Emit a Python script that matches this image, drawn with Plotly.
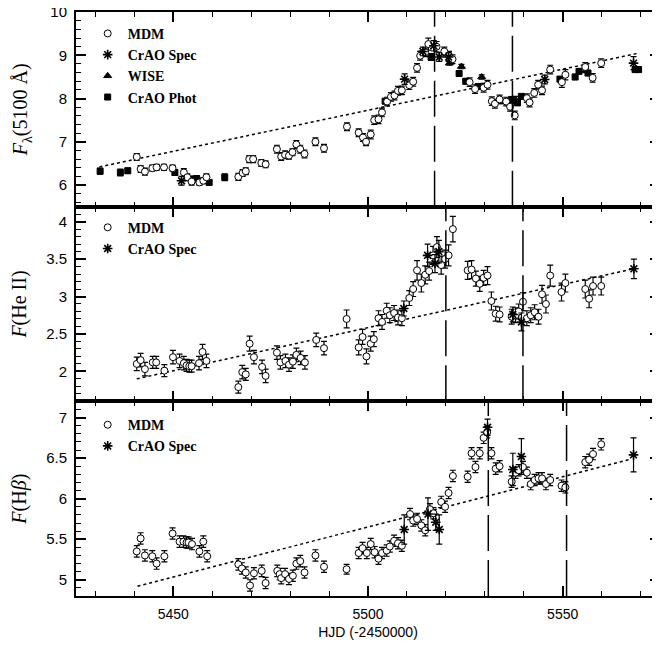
import plotly.graph_objects as go
from plotly.subplots import make_subplots

# ---- continuum F_lambda(5100 A) ----
cont_mdm_x = [5440.6, 5441.6, 5442.7, 5444.6, 5445.7, 5447.6, 5449.8, 5452.7, 5453.6, 5454.7,
              5456.7, 5457.7, 5458.5, 5466.7, 5467.8, 5468.6, 5469.5, 5470.5, 5472.6, 5473.7,
              5476.6, 5477.7, 5478.7, 5479.7, 5480.6, 5481.6, 5482.6, 5483.7, 5486.5, 5488.7,
              5494.6, 5497.6, 5498.7, 5499.5, 5500.7, 5501.6, 5502.7, 5503.6, 5504.9, 5505.9,
              5506.8, 5507.7, 5508.7, 5510.6, 5511.6, 5512.6, 5513.4, 5514.7, 5515.5, 5517.6,
              5519.6, 5520.8, 5521.7, 5526.1, 5527.5, 5529.7, 5530.7, 5531.8, 5532.6, 5533.8,
              5535.5, 5536.5, 5537.7, 5540.8, 5541.5, 5542.7, 5543.7, 5544.7, 5546.8, 5549.8,
              5550.7, 5555.8, 5557.7, 5559.9]
cont_mdm_y = [6.65, 6.37, 6.31, 6.39, 6.41, 6.41, 6.39, 6.29, 6.18, 6.08,
              6.06, 6.10, 6.18, 6.19, 6.28, 6.32, 6.60, 6.60, 6.51, 6.48,
              6.83, 6.66, 6.70, 6.68, 6.76, 6.94, 6.83, 6.72, 7.00, 6.85,
              7.35, 7.21, 7.10, 7.00, 7.17, 7.50, 7.52, 7.68, 7.93, 8.04,
              8.07, 8.18, 8.19, 8.31, 8.39, 8.71, 8.99, 9.07, 9.26, 9.20,
              9.09, 8.99, 8.91, 8.38, 8.22, 8.25, 8.32, 7.94, 7.88, 7.98,
              7.93, 7.81, 7.61, 8.01, 7.91, 8.13, 8.32, 8.19, 8.67, 8.38,
              8.55, 8.73, 8.48, 8.82]
cont_mdm_e = [0.08, 0.08, 0.08, 0.07, 0.07, 0.07, 0.07, 0.09, 0.08, 0.08,
              0.07, 0.07, 0.08, 0.08, 0.08, 0.08, 0.08, 0.08, 0.08, 0.08,
              0.09, 0.09, 0.09, 0.08, 0.08, 0.09, 0.09, 0.09, 0.09, 0.09,
              0.09, 0.09, 0.09, 0.09, 0.10, 0.10, 0.10, 0.10, 0.10, 0.10,
              0.10, 0.10, 0.10, 0.10, 0.10, 0.10, 0.10, 0.10, 0.14, 0.12,
              0.10, 0.10, 0.10, 0.10, 0.10, 0.10, 0.10, 0.10, 0.10, 0.10,
              0.10, 0.10, 0.10, 0.10, 0.10, 0.10, 0.10, 0.10, 0.10, 0.12,
              0.12, 0.10, 0.10, 0.10]
cont_spec_x = [5452.1, 5509.4, 5514.1, 5516.9, 5518.3, 5520.7, 5538.0, 5545.4, 5568.2]
cont_spec_y = [6.10, 8.45, 9.09, 9.22, 8.96, 8.96, 7.95, 8.44, 8.82]
cont_spec_e = [0.10, 0.12, 0.10, 0.12, 0.10, 0.10, 0.10, 0.10, 0.15]
cont_wise_x = [5513.9, 5520.9, 5524.0, 5529.2, 5534.5, 5556.0]
cont_wise_y = [9.05, 8.82, 8.74, 8.50, 7.93, 8.65]
cont_wise_e = [0.05, 0.05, 0.05, 0.05, 0.05, 0.05]
cont_phot_x = [5431.2, 5436.4, 5438.3, 5450.4, 5455.3, 5456.0, 5459.2, 5463.2, 5504.4, 5516.2,
               5523.4, 5525.1, 5528.3, 5536.9, 5538.4, 5539.4, 5549.3, 5553.2, 5554.2, 5556.5,
               5568.6, 5569.5]
cont_phot_y = [6.32, 6.29, 6.33, 6.29, 6.14, 6.15, 6.06, 6.18, 7.94, 8.96,
               8.58, 8.40, 8.28, 7.98, 7.90, 8.05, 8.45, 8.50, 8.63, 8.59,
               8.67, 8.67]
cont_phot_e = [0.07, 0.08, 0.06, 0.06, 0.06, 0.06, 0.06, 0.08, 0.06, 0.08,
               0.06, 0.06, 0.06, 0.06, 0.06, 0.06, 0.06, 0.06, 0.06, 0.06,
               0.05, 0.05]
cont_trend_x = [5431, 5569]
cont_trend_y = [6.42, 9.04]
cont_lags = [5517.1, 5537.1]

# ---- He II ----
heii_mdm_x = [5440.6, 5441.6, 5442.7, 5444.7, 5445.6, 5447.7, 5449.9, 5451.6, 5452.7, 5453.4,
              5454.1, 5454.7, 5456.6, 5457.5, 5458.5, 5466.7, 5467.7, 5468.6, 5469.6, 5470.7,
              5472.8, 5473.7, 5476.6, 5477.5, 5478.8, 5479.7, 5480.7, 5481.6, 5482.7, 5483.8,
              5486.7, 5488.7, 5494.5, 5497.6, 5498.6, 5499.6, 5500.7, 5501.5, 5502.7, 5503.6,
              5504.8, 5505.6, 5506.7, 5507.7, 5508.7, 5510.6, 5511.6, 5512.6, 5513.7, 5514.7,
              5515.7, 5516.7, 5517.7, 5518.8, 5519.8, 5520.7, 5521.8, 5525.6, 5526.6, 5527.7,
              5528.7, 5529.7, 5530.7, 5531.7, 5532.8, 5533.8, 5536.9, 5537.9, 5538.7, 5539.8,
              5540.8, 5541.8, 5542.8, 5543.8, 5544.7, 5545.7, 5546.8, 5549.7, 5550.7, 5555.8,
              5556.8, 5557.8, 5559.9]
heii_mdm_y = [2.10, 2.15, 2.03, 2.12, 2.12, 2.01, 2.19, 2.14, 2.11, 2.08,
              2.07, 2.07, 2.11, 2.26, 2.14, 1.79, 1.99, 1.96, 2.37, 2.19,
              2.06, 1.94, 2.25, 2.12, 2.14, 2.09, 2.13, 2.22, 2.18, 2.12,
              2.42, 2.31, 2.70, 2.32, 2.46, 2.20, 2.37, 2.43, 2.71, 2.66,
              2.81, 2.75, 2.78, 2.72, 2.71, 2.98, 3.10, 3.35, 3.18, 3.29,
              3.34, 3.55, 3.66, 3.42, 3.50, 3.55, 3.90, 3.35, 3.36, 3.24,
              3.17, 3.25, 3.28, 2.94, 2.77, 2.76, 2.73, 2.75, 2.80, 2.93,
              2.71, 2.75, 2.79, 2.73, 3.03, 2.90, 3.28, 3.06, 3.18, 3.10,
              2.97, 3.14, 3.14]
heii_mdm_e = [0.09, 0.09, 0.09, 0.08, 0.08, 0.08, 0.09, 0.09, 0.09, 0.08,
              0.08, 0.08, 0.09, 0.10, 0.09, 0.08, 0.09, 0.08, 0.10, 0.09,
              0.09, 0.09, 0.09, 0.09, 0.09, 0.09, 0.09, 0.09, 0.09, 0.09,
              0.09, 0.09, 0.12, 0.10, 0.10, 0.10, 0.10, 0.10, 0.10, 0.10,
              0.10, 0.10, 0.10, 0.10, 0.10, 0.10, 0.10, 0.13, 0.12, 0.12,
              0.12, 0.12, 0.14, 0.12, 0.12, 0.14, 0.17, 0.12, 0.12, 0.10,
              0.10, 0.10, 0.12, 0.12, 0.10, 0.10, 0.10, 0.10, 0.10, 0.12,
              0.10, 0.10, 0.10, 0.10, 0.12, 0.12, 0.14, 0.12, 0.12, 0.12,
              0.12, 0.12, 0.12]
heii_spec_x = [5509.2, 5515.3, 5517.2, 5518.2, 5537.2, 5539.4, 5568.3]
heii_spec_y = [2.84, 3.55, 3.44, 3.60, 2.76, 2.66, 3.37]
heii_spec_e = [0.10, 0.15, 0.12, 0.15, 0.10, 0.12, 0.13]
heii_trend_x = [5440.6, 5568.2]
heii_trend_y = [1.90, 3.37]
heii_lags = [5520.0, 5539.8]

# ---- H beta ----
hb_mdm_x = [5440.6, 5441.6, 5442.7, 5444.6, 5445.7, 5447.7, 5449.8, 5451.6, 5452.6, 5453.4,
            5453.9, 5454.8, 5456.7, 5457.7, 5458.7, 5466.7, 5467.6, 5468.6, 5469.7, 5470.7,
            5472.7, 5473.7, 5476.7, 5477.3, 5477.7, 5478.7, 5479.7, 5480.7, 5481.6, 5482.6,
            5483.7, 5486.5, 5488.7, 5494.5, 5497.6, 5498.6, 5499.7, 5500.7, 5501.7, 5502.7,
            5503.6, 5504.8, 5505.6, 5506.7, 5507.7, 5508.7, 5510.8, 5511.6, 5512.6, 5513.7,
            5514.7, 5515.9, 5516.8, 5518.8, 5519.8, 5520.7, 5521.8, 5525.6, 5526.6, 5527.6,
            5528.7, 5529.7, 5530.6, 5531.7, 5532.8, 5533.8, 5536.9, 5537.9, 5538.7, 5539.8,
            5540.8, 5541.8, 5542.8, 5543.8, 5544.7, 5545.7, 5546.8, 5549.7, 5550.7, 5555.8,
            5556.8, 5557.8, 5559.9]
hb_mdm_y = [5.35, 5.51, 5.30, 5.29, 5.20, 5.29, 5.57, 5.47, 5.47, 5.46,
            5.46, 5.44, 5.35, 5.47, 5.29, 5.19, 5.14, 5.09, 4.93, 5.08,
            5.11, 4.96, 5.11, 5.07, 5.02, 5.07, 5.01, 5.05, 5.20, 5.23,
            5.09, 5.30, 5.16, 5.13, 5.33, 5.39, 5.33, 5.44, 5.34, 5.26,
            5.33, 5.36, 5.41, 5.48, 5.45, 5.42, 5.81, 5.73, 5.75, 5.67,
            5.61, 5.87, 5.82, 5.96, 5.90, 6.07, 6.28, 6.27, 6.56, 6.39,
            6.56, 6.75, 6.82, 6.56, 6.37, 6.40, 6.21, 6.32, 6.35, 6.39,
            6.32, 6.18, 6.23, 6.25, 6.25, 6.18, 6.23, 6.16, 6.14, 6.45,
            6.48, 6.55, 6.67]
hb_mdm_e = [0.07, 0.07, 0.07, 0.07, 0.07, 0.07, 0.07, 0.07, 0.07, 0.07,
            0.07, 0.07, 0.07, 0.07, 0.07, 0.07, 0.07, 0.07, 0.07, 0.07,
            0.07, 0.07, 0.07, 0.07, 0.07, 0.07, 0.07, 0.07, 0.07, 0.07,
            0.07, 0.07, 0.07, 0.06, 0.07, 0.07, 0.07, 0.07, 0.07, 0.07,
            0.07, 0.07, 0.07, 0.07, 0.07, 0.07, 0.07, 0.07, 0.07, 0.07,
            0.07, 0.07, 0.07, 0.07, 0.07, 0.07, 0.07, 0.07, 0.07, 0.07,
            0.07, 0.07, 0.07, 0.07, 0.07, 0.07, 0.07, 0.07, 0.07, 0.07,
            0.07, 0.07, 0.07, 0.07, 0.07, 0.07, 0.07, 0.07, 0.07, 0.07,
            0.07, 0.07, 0.07]
hb_spec_x = [5509.3, 5515.4, 5517.4, 5518.3, 5530.7, 5537.2, 5539.4, 5568.2]
hb_spec_y = [5.62, 5.81, 5.71, 5.62, 6.88, 6.36, 6.52, 6.54]
hb_spec_e = [0.18, 0.20, 0.10, 0.18, 0.10, 0.20, 0.22, 0.21]
hb_trend_x = [5440.8, 5567.0]
hb_trend_y = [4.92, 6.48]
hb_lags = [5530.9, 5551.0]

x_range = [5425, 5575]
y_ranges = [[5.5, 10.002], [1.6, 4.2], [4.8, 7.2]]
y_dticks = [1, 0.5, 0.5]
y_minor = [0.2, 0.1, 0.1]
y_titles = ["<i>F</i><sub>λ</sub>(5100 Å)", "<i>F</i>(He II)", "<i>F</i>(H<i>β</i>)"]

fig = make_subplots(rows=3, cols=1, shared_xaxes=True, vertical_spacing=0)


def err_points(x, y, e, symbol, size, row, fill="black", lw=1):
    fig.add_trace(
        go.Scatter(
            x=x, y=y, mode="markers",
            error_y=dict(type="data", array=e, color="black", thickness=1.2, width=3),
            marker=dict(symbol=symbol, size=size, color=fill,
                        line=dict(color="black", width=lw)),
            showlegend=False,
        ),
        row=row, col=1,
    )


def legend_entry(name, symbol, size, legend, fill="black", lw=1):
    fig.add_trace(
        go.Scatter(
            x=[None], y=[None], mode="markers", name=name, legend=legend,
            marker=dict(symbol=symbol, size=size, color=fill,
                        line=dict(color="black", width=lw)),
        )
    )


def trend(x, y, row):
    fig.add_trace(
        go.Scatter(x=x, y=y, mode="lines", line=dict(color="black", width=1.5, dash="dot"),
                   showlegend=False, hoverinfo="skip"),
        row=row, col=1,
    )


# top panel
trend(cont_trend_x, cont_trend_y, 1)
err_points(cont_phot_x, cont_phot_y, cont_phot_e, "square", 6, 1)
err_points(cont_wise_x, cont_wise_y, cont_wise_e, "triangle-up", 7, 1)
err_points(cont_mdm_x, cont_mdm_y, cont_mdm_e, "circle", 7, 1, fill="white")
err_points(cont_spec_x, cont_spec_y, cont_spec_e, "asterisk", 8, 1, lw=1.6)

# middle panel
trend(heii_trend_x, heii_trend_y, 2)
err_points(heii_mdm_x, heii_mdm_y, heii_mdm_e, "circle", 7, 2, fill="white")
err_points(heii_spec_x, heii_spec_y, heii_spec_e, "asterisk", 8, 2, lw=1.6)

# bottom panel
trend(hb_trend_x, hb_trend_y, 3)
err_points(hb_mdm_x, hb_mdm_y, hb_mdm_e, "circle", 7, 3, fill="white")
err_points(hb_spec_x, hb_spec_y, hb_spec_e, "asterisk", 8, 3, lw=1.6)

legend_entry("<b>MDM</b>", "circle", 7, "legend", fill="white")
legend_entry("<b>CrAO Spec</b>", "asterisk", 8, "legend", lw=1.6)
legend_entry("<b>WISE</b>", "triangle-up", 7, "legend")
legend_entry("<b>CrAO Phot</b>", "square", 6, "legend")
legend_entry("<b>MDM</b>", "circle", 7, "legend2", fill="white")
legend_entry("<b>CrAO Spec</b>", "asterisk", 8, "legend2", lw=1.6)
legend_entry("<b>MDM</b>", "circle", 7, "legend3", fill="white")
legend_entry("<b>CrAO Spec</b>", "asterisk", 8, "legend3", lw=1.6)

# lag markers
for row, lags in enumerate([cont_lags, heii_lags, hb_lags], start=1):
    for lag in lags:
        fig.add_vline(x=lag, line=dict(color="black", width=1.5, dash="36px,9px"), row=row, col=1)

fig.update_xaxes(
    range=x_range, dtick=50, tick0=5450, automargin=False,
    ticks="inside", ticklen=10, tickwidth=1.5, tickcolor="black", ticklabelstandoff=4,
    minor=dict(dtick=10, ticklen=5, tickwidth=1.2, ticks="inside", tickcolor="black"),
    showline=True, linewidth=2, linecolor="black", mirror="ticks",
    showgrid=False, zeroline=False,
    tickfont=dict(family="Liberation Sans", size=14, color="black"),
)
fig.update_xaxes(
    title=dict(text="HJD (-2450000)", standoff=6,
               font=dict(family="Liberation Sans", size=14, color="black")),
    row=3, col=1,
)

for i in range(3):
    fig.update_yaxes(
        range=y_ranges[i], dtick=y_dticks[i], automargin=False,
        ticks="inside", ticklen=10, tickwidth=1.5, tickcolor="black", ticklabelstandoff=4,
        ticklabeloverflow="allow",
        minor=dict(dtick=y_minor[i], ticklen=5, tickwidth=1.2, ticks="inside", tickcolor="black"),
        showline=True, linewidth=2, linecolor="black", mirror="ticks",
        showgrid=False, zeroline=False,
        tickfont=dict(family="Liberation Sans", size=15, color="black"),
        title=dict(text=y_titles[i], standoff=17,
                   font=dict(family="Liberation Serif", size=20, color="black")),
        row=i + 1, col=1,
    )

legend_style = dict(
    xanchor="left", yanchor="top", bgcolor="rgba(0,0,0,0)", borderwidth=0,
    itemwidth=30, font=dict(family="Liberation Serif", size=14, color="black"),
)
# page body keeps its 8px margin, so the figure is 8px smaller on each side
fig.update_layout(
    width=652, height=637,
    margin=dict(l=68, r=0, t=4, b=49),
    plot_bgcolor="white", paper_bgcolor="white",
    legend=dict(x=0.02, y=0.99, **legend_style),
    legend2=dict(x=0.02, y=0.658, **legend_style),
    legend3=dict(x=0.02, y=0.32, **legend_style),
)

fig.write_html("out.html")
